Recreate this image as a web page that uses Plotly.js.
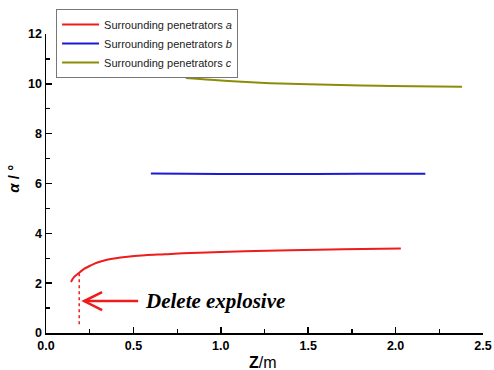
<!DOCTYPE html>
<html>
<head>
<meta charset="utf-8">
<script src="https://cdn.plot.ly/plotly-3.0.1.min.js"></script>
<style>html,body{margin:0;padding:0;background:#fff;}#chart{width:494px;height:370px;}</style>
</head>
<body>
<div id="chart"></div>
<script>
// Surrounding penetrators a
var zA = [0.143, 0.16, 0.195, 0.22, 0.252, 0.29, 0.338, 0.4, 0.453, 0.567, 0.68, 0.785, 1.0, 1.2, 1.4, 1.7, 2.03];
var alphaA = [2.05, 2.24, 2.45, 2.58, 2.70, 2.82, 2.92, 3.00, 3.05, 3.12, 3.16, 3.20, 3.25, 3.29, 3.32, 3.36, 3.39];
// Surrounding penetrators b
var zB = [0.60, 1.0, 1.4, 1.8, 2.17];
var alphaB = [6.40, 6.38, 6.38, 6.39, 6.39];
// Surrounding penetrators c
var zC = [0.80, 1.0, 1.2, 1.34, 1.5, 1.685, 1.9, 2.1, 2.38];
var alphaC = [10.23, 10.13, 10.05, 10.01, 9.98, 9.95, 9.92, 9.90, 9.88];

var seriesNames = ['Surrounding penetrators <i>a</i>', 'Surrounding penetrators <i>b</i>', 'Surrounding penetrators <i>c</i>'];
var seriesColors = ['#ee1c1c', '#1a1ad6', '#8c8c0a'];

var xTicks = [0, 0.5, 1.0, 1.5, 2.0, 2.5];
var xTickLabels = ['0.0', '0.5', '1.0', '1.5', '2.0', '2.5'];
var yTicks = [0, 2, 4, 6, 8, 10, 12];
var yTickLabels = ['0', '2', '4', '6', '8', '10', '12'];

// "Delete explosive" marker
var deleteZ = 0.19;
var deleteAlphaTop = 2.45;
var deleteAlphaBottom = 0.35;
var arrowTipZ = 0.218;
var arrowTailZ = 0.527;
var arrowAlpha = 1.28;

function bold(arr) { return arr.map(function (s) { return '<b>' + s + '</b>'; }); }

var traces = [
  {x: zA, y: alphaA, name: seriesNames[0], mode: 'lines', line: {color: seriesColors[0], width: 2, shape: 'spline'}},
  {x: zB, y: alphaB, name: seriesNames[1], mode: 'lines', line: {color: seriesColors[1], width: 2, shape: 'spline'}},
  {x: zC, y: alphaC, name: seriesNames[2], mode: 'lines', line: {color: seriesColors[2], width: 2, shape: 'spline'}}
];

var axisCommon = {
  showline: true, linecolor: '#000', linewidth: 1.5, mirror: false,
  showgrid: false, zeroline: false,
  ticks: 'inside', ticklen: 6, tickwidth: 1.5, tickcolor: '#000',
  tickfont: {family: 'Liberation Sans, Arial, sans-serif', size: 12.5, color: '#000'},
  fixedrange: true
};

var layout = {
  width: 494, height: 370,
  margin: {l: 46, r: 11, t: 34, b: 37, autoexpand: false},
  paper_bgcolor: '#fff', plot_bgcolor: '#fff',
  showlegend: true,
  legend: {
    x: 0.023, y: 1.084, xanchor: 'left', yanchor: 'top',
    bgcolor: '#fff', bordercolor: '#777', borderwidth: 1,
    font: {family: 'Liberation Sans, Arial, sans-serif', size: 11, color: '#222'},
    itemwidth: 37,
    tracegroupgap: 0
  },
  xaxis: Object.assign({}, axisCommon, {
    range: [0, 2.5], tickvals: xTicks, ticktext: bold(xTickLabels),
    minor: {ticks: 'inside', ticklen: 4, tickwidth: 1.2, tickcolor: '#000', dtick: 0.25}
  }),
  yaxis: Object.assign({}, axisCommon, {
    range: [0, 12], tickvals: yTicks, ticktext: bold(yTickLabels),
    minor: {ticks: 'inside', ticklen: 4, tickwidth: 1.2, tickcolor: '#000', dtick: 1}
  }),
  shapes: [
    {type: 'line', xref: 'x', yref: 'y', x0: deleteZ, x1: deleteZ, y0: deleteAlphaBottom, y1: deleteAlphaTop,
     line: {color: '#ee1c1c', width: 1.5, dash: 'dot'}},
    {type: 'line', xref: 'x', yref: 'y', x0: arrowTipZ, x1: arrowTailZ, y0: arrowAlpha, y1: arrowAlpha,
     line: {color: '#ee1c1c', width: 2.5}},
    {type: 'path', xref: 'x', yref: 'y',
     path: 'M ' + (arrowTipZ + 0.103) + ' ' + (arrowAlpha + 0.36) + ' L ' + arrowTipZ + ' ' + arrowAlpha + ' L ' + (arrowTipZ + 0.103) + ' ' + (arrowAlpha - 0.36),
     line: {color: '#ee1c1c', width: 2.5}}
  ],
  annotations: [
    {xref: 'x', yref: 'y', x: 0.553, y: arrowAlpha, xanchor: 'left', yanchor: 'middle', showarrow: false,
     text: '<b><i>Delete explosive</i></b>',
     font: {family: 'Liberation Serif, Times New Roman, serif', size: 21, color: '#000'}},
    {xref: 'paper', yref: 'paper', x: 0.497, y: -0.1, xanchor: 'center', yanchor: 'middle', showarrow: false,
     text: '<b>Z</b>/m', font: {family: 'Liberation Sans, Arial, sans-serif', size: 16, color: '#000'}},
    {xref: 'paper', yref: 'paper', x: -0.075, y: 0.517, xanchor: 'center', yanchor: 'middle', showarrow: false,
     textangle: -90, text: '<b><i>α</i> / °</b>', font: {family: 'Liberation Sans, Arial, sans-serif', size: 15, color: '#000'}}
  ]
};

Plotly.newPlot('chart', traces, layout, {displayModeBar: false, staticPlot: true});
</script>
</body>
</html>
